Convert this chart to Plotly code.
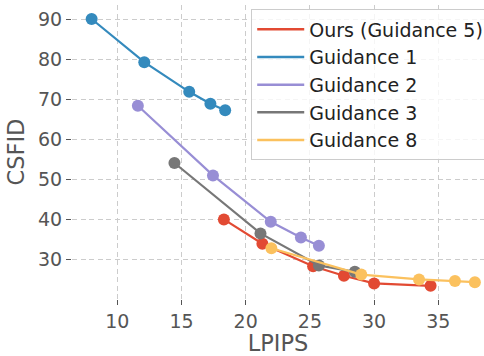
import plotly.graph_objects as go

# Data
ours_x = [18.3, 21.3, 25.25, 27.65, 30.0, 34.4]
ours_y = [39.9, 33.8, 28.2, 25.8, 23.9, 23.3]
g1_x = [8.0, 12.1, 15.6, 17.25, 18.4]
g1_y = [90.0, 79.2, 71.8, 68.8, 67.2]
g2_x = [11.6, 17.45, 21.95, 24.3, 25.7]
g2_y = [68.3, 50.9, 39.3, 35.4, 33.3]
g3_x = [14.45, 21.15, 25.7, 28.5]
g3_y = [54.0, 36.4, 28.4, 26.8]
g8_x = [22.0, 29.0, 33.5, 36.3, 37.85]
g8_y = [32.7, 26.1, 24.9, 24.5, 24.2]

series = [
    ("Ours (Guidance 5)", ours_x, ours_y, "#E24A33"),
    ("Guidance 1", g1_x, g1_y, "#348ABD"),
    ("Guidance 2", g2_x, g2_y, "#988ED5"),
    ("Guidance 3", g3_x, g3_y, "#777777"),
    ("Guidance 8", g8_x, g8_y, "#FBC15E"),
]

FONT = "DejaVu Sans"
fig = go.Figure()
for name, xs, ys, col in series:
    fig.add_trace(go.Scatter(
        x=xs, y=ys, mode="lines+markers", name=name, showlegend=False,
        line=dict(color=col, width=2.2),
        marker=dict(color=col, size=12),
        cliponaxis=False,
    ))
for name, xs, ys, col in series:
    fig.add_trace(go.Scatter(
        x=[None], y=[None], mode="lines", name=name, showlegend=True,
        line=dict(color=col, width=2.5),
    ))

grid = dict(showgrid=True, gridcolor="#cccccc", gridwidth=1, griddash="5px,3.5px",
            zeroline=False, showline=False, ticks="outside", ticklen=5, tickwidth=1,
            tickcolor="#555555", tickfont=dict(family=FONT, size=19, color="#555555"))

fig.update_layout(
    width=484, height=356,
    margin=dict(l=72, r=0, t=5, b=57, autoexpand=False),
    paper_bgcolor="white", plot_bgcolor="white",
    font=dict(family=FONT, color="#555555"),
    xaxis=dict(range=[6.47, 38.56], tickvals=[10, 15, 20, 25, 30, 35],
               title=dict(text="LPIPS", font=dict(family=FONT, size=22.5, color="#555555"), standoff=9),
               automargin=False, **grid),
    yaxis=dict(range=[20.0, 93.5], tickvals=[30, 40, 50, 60, 70, 80, 90],
               title=dict(text="CSFID", font=dict(family=FONT, size=22.5, color="#555555"), standoff=7),
               automargin=False, **grid),
    legend=dict(x=0.435, y=0.985, xanchor="left", yanchor="top",
                bgcolor="rgba(255,255,255,0.8)", bordercolor="#cccccc", borderwidth=1,
                font=dict(family=FONT, size=19, color="#222222"),
                itemwidth=47, tracegroupgap=0),
    showlegend=True,
)

fig.write_html("out.html")
